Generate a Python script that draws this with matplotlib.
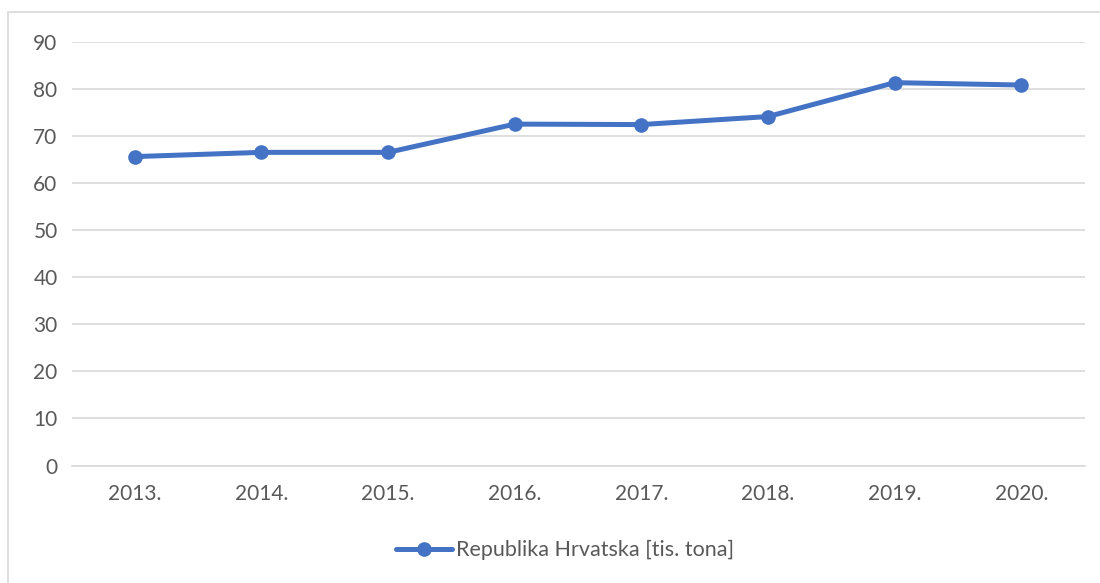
import matplotlib.pyplot as plt
from matplotlib.patches import Rectangle

years = ['2013.', '2014.', '2015.', '2016.', '2017.', '2018.', '2019.', '2020.']
values = [65.6, 66.5, 66.5, 72.5, 72.4, 74.1, 81.3, 80.8]
yticks = [0, 10, 20, 30, 40, 50, 60, 70, 80, 90]

plt.rcParams['font.family'] = ['Lato', 'DejaVu Sans']

fig = plt.figure(figsize=(11, 5.83), dpi=100)
ax = fig.add_axes([0.065, 0.2015, 0.921, 0.727])

# outer chart border (right/bottom edges fall off the image)
fig.patches.append(Rectangle((8 / 1100, -0.01), 1.2, 1 - 12 / 583 + 0.01,
                             transform=fig.transFigure, fill=False,
                             edgecolor='#d9d9d9', linewidth=1.2))

x = list(range(len(years)))
ax.plot(x, values, color='#4472c4', linewidth=3.6, marker='o',
        markersize=9.5, label='Republika Hrvatska [tis. tona]',
        solid_capstyle='round', zorder=3)

ax.set_xlim(-0.5, len(years) - 0.5)
ax.set_ylim(0, 90)
ax.set_yticks(yticks)
ax.set_xticks(x)
ax.set_xticklabels(years)
ax.grid(axis='y', color='#d9d9d9', linewidth=1.2)
ax.set_axisbelow(True)
for s in ['top', 'right', 'left']:
    ax.spines[s].set_visible(False)
ax.spines['bottom'].set_color('#d9d9d9')
ax.spines['bottom'].set_linewidth(1.2)
ax.tick_params(length=0, colors='#595959', labelsize=15)
ax.tick_params(axis='x', pad=13)
ax.tick_params(axis='y', pad=10)

fig.legend(loc='center', bbox_to_anchor=(0.514, 1 - 550 / 583), frameon=False,
           fontsize=15.5, labelcolor='#595959', handlelength=2.6,
           handletextpad=0.2)

fig.savefig('out.png', dpi=100)
